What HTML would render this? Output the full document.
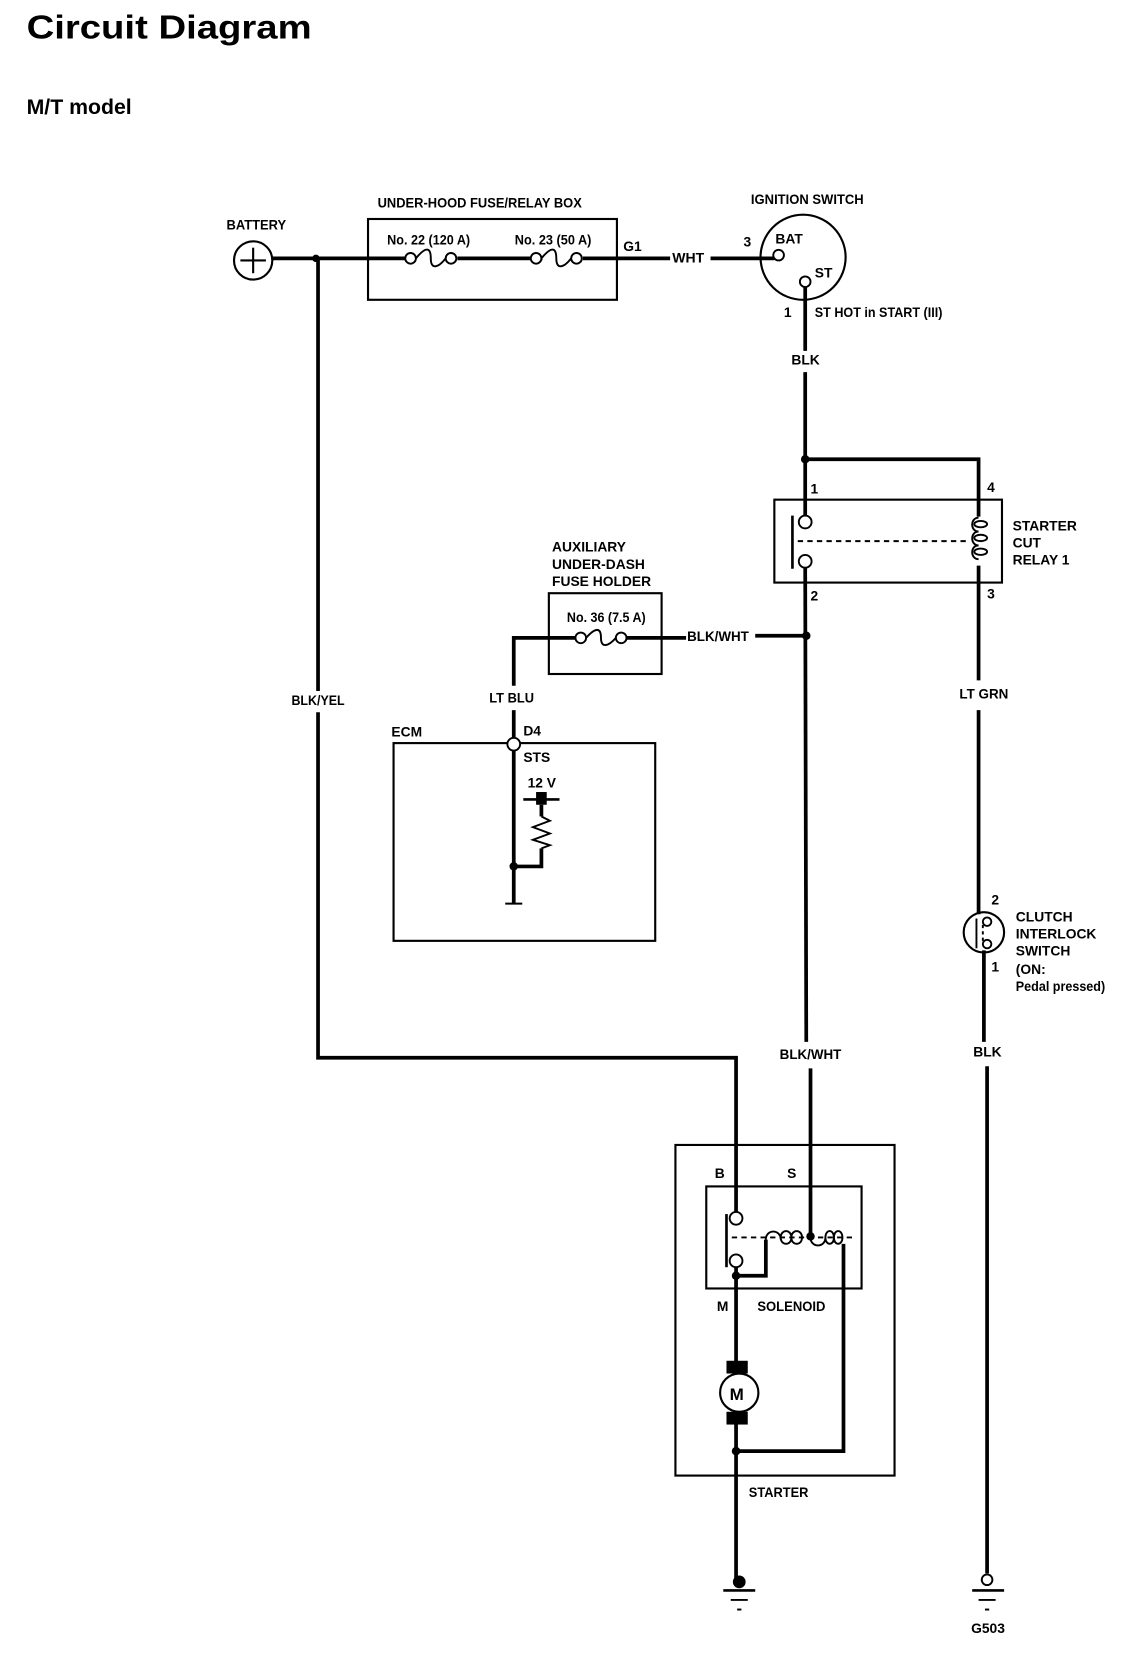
<!DOCTYPE html>
<html><head><meta charset="utf-8"><style>
html,body{margin:0;padding:0;background:#fff;}
svg{display:block}
text{font-family:"Liberation Sans",sans-serif;font-weight:bold;fill:#000;}
.s{font-size:13px;font-stretch:condensed;}
</style></head><body>
<svg width="1136" height="1668" viewBox="0 0 1068 1569" preserveAspectRatio="none" xmlns="http://www.w3.org/2000/svg">
<g fill="none" stroke="#000" stroke-width="3">
<text x="25" y="36" style="font-size:31px;stroke:none" textLength="268" lengthAdjust="spacingAndGlyphs">Circuit Diagram</text>
<text x="25" y="107" style="font-size:20px;stroke:none">M/T model</text>
</g>
<g class="s" style="font-size:13px">
<text x="213" y="216" textLength="56" lengthAdjust="spacingAndGlyphs">BATTERY</text>
<text x="355" y="195" textLength="192" lengthAdjust="spacingAndGlyphs">UNDER-HOOD FUSE/RELAY BOX</text>
<text x="364" y="230" textLength="78" lengthAdjust="spacingAndGlyphs">No. 22 (120 A)</text>
<text x="484" y="230" textLength="72" lengthAdjust="spacingAndGlyphs">No. 23 (50 A)</text>
<text x="586" y="236">G1</text>
<text x="632" y="247" textLength="30" lengthAdjust="spacingAndGlyphs">WHT</text>
<text x="706" y="192" textLength="106" lengthAdjust="spacingAndGlyphs">IGNITION SWITCH</text>
<text x="699" y="232">3</text>
<text x="729" y="229">BAT</text>
<text x="766" y="261">ST</text>
<text x="737" y="298">1</text>
<text x="766" y="298" textLength="120" lengthAdjust="spacingAndGlyphs">ST HOT in START (III)</text>
<text x="744" y="343">BLK</text>
<text x="762" y="464">1</text>
<text x="928" y="463">4</text>
<text x="762" y="565">2</text>
<text x="928" y="563">3</text>
<text x="952" y="499">STARTER</text>
<text x="952" y="515">CUT</text>
<text x="952" y="531">RELAY 1</text>
<text x="519" y="519">AUXILIARY</text>
<text x="519" y="535">UNDER-DASH</text>
<text x="519" y="551">FUSE HOLDER</text>
<text x="533" y="585" textLength="74" lengthAdjust="spacingAndGlyphs">No. 36 (7.5 A)</text>
<text x="646" y="603" textLength="58" lengthAdjust="spacingAndGlyphs">BLK/WHT</text>
<text x="460" y="661" textLength="42" lengthAdjust="spacingAndGlyphs">LT BLU</text>
<text x="274" y="663" textLength="50" lengthAdjust="spacingAndGlyphs">BLK/YEL</text>
<text x="368" y="693">ECM</text>
<text x="492" y="692">D4</text>
<text x="492" y="717">STS</text>
<text x="496" y="741">12 V</text>
<text x="902" y="657" textLength="46" lengthAdjust="spacingAndGlyphs">LT GRN</text>
<text x="932" y="851">2</text>
<text x="932" y="914">1</text>
<text x="955" y="867">CLUTCH</text>
<text x="955" y="883">INTERLOCK</text>
<text x="955" y="899">SWITCH</text>
<text x="955" y="916">(ON:</text>
<text x="955" y="932" textLength="84" lengthAdjust="spacingAndGlyphs">Pedal pressed)</text>
<text x="915" y="994">BLK</text>
<text x="733" y="996" textLength="58" lengthAdjust="spacingAndGlyphs">BLK/WHT</text>
<text x="672" y="1108">B</text>
<text x="740" y="1108">S</text>
<text x="674" y="1233">M</text>
<text x="712" y="1233" textLength="64" lengthAdjust="spacingAndGlyphs">SOLENOID</text>
<text x="704" y="1408" textLength="56" lengthAdjust="spacingAndGlyphs">STARTER</text>
<text x="913" y="1536">G503</text>
</g>
<g fill="none" stroke="#000" stroke-width="2">
<!-- battery -->
<circle cx="238" cy="245" r="18"/>
<line x1="226" y1="245" x2="250" y2="245"/><line x1="238" y1="233" x2="238" y2="257"/>
<!-- boxes -->
<rect x="346" y="206" width="234" height="76"/>
<circle cx="755" cy="242" r="40"/>
<rect x="728" y="470" width="214" height="78"/>
<rect x="516" y="558" width="106" height="76"/>
<rect x="370" y="699" width="246" height="186"/>
<rect x="635" y="1077" width="206" height="311"/>
<rect x="664" y="1116" width="146" height="96"/>
<circle cx="925" cy="877" r="19"/>
<circle cx="695" cy="1310" r="18"/>
</g>
<g fill="none" stroke="#000" stroke-width="3.5">
<!-- bus -->
<polyline points="256,243 386,243"/>
<line x1="430" y1="243" x2="510" y2="243"/>
<line x1="548" y1="243" x2="630" y2="243"/>
<line x1="668" y1="243" x2="728" y2="243"/>
<!-- BLK/YEL -->
<polyline points="299,243 299,650"/>
<polyline points="299,670 299,995 692,995 692,1140"/>
<!-- ignition ST down -->
<line x1="757" y1="270" x2="757" y2="330"/>
<line x1="757" y1="350" x2="757" y2="485"/>
<polyline points="757,432 920,432 920,486"/>
<line x1="920" y1="532" x2="920" y2="640"/>
<line x1="920" y1="668" x2="920" y2="860"/>
<line x1="925" y1="894" x2="925" y2="980"/>
<line x1="928" y1="1003" x2="928" y2="1480"/>
<!-- relay 2 down -->
<line x1="757" y1="534" x2="758" y2="980"/>
<line x1="762" y1="1005" x2="762" y2="1162"/>
<line x1="710" y1="598" x2="758" y2="598"/>
<line x1="586" y1="600" x2="645" y2="600"/>
<polyline points="544,600 483,600 483,645"/>
<line x1="483" y1="668" x2="483" y2="694"/>
<line x1="483" y1="706" x2="483" y2="850"/>
<line x1="509" y1="757" x2="509" y2="768"/>
<polyline points="509,798 509,815 483,815"/>
<!-- starter -->
<polyline points="692,1192 692,1200 720,1200 720,1166"/>
<line x1="692" y1="1200" x2="692" y2="1282"/>
<polyline points="793,1170 793,1365 692,1365"/>
<line x1="692" y1="1338" x2="692" y2="1490"/>
</g>
<g fill="none" stroke="#000" stroke-width="1.8">
<!-- fuses -->
<circle cx="386" cy="243" r="5" fill="#fff"/><circle cx="424" cy="243" r="5" fill="#fff"/>
<path d="M391,243 C400,232 405,232 405,243 C405,254 412,252 419,243"/>
<circle cx="504" cy="243" r="5" fill="#fff"/><circle cx="542" cy="243" r="5" fill="#fff"/>
<path d="M509,243 C518,232 523,232 523,243 C523,254 530,252 537,243"/>
<circle cx="546" cy="600" r="5" fill="#fff"/><circle cx="584" cy="600" r="5" fill="#fff"/>
<path d="M551,600 C560,590 565,590 565,600 C565,610 572,608 579,600"/>
<!-- ignition contacts -->
<circle cx="732" cy="240" r="5" fill="#fff"/>
<circle cx="757" cy="265" r="5" fill="#fff"/>
<!-- relay contacts -->
<circle cx="757" cy="491" r="6" fill="#fff"/><circle cx="757" cy="528" r="6" fill="#fff"/>
<line x1="745" y1="485" x2="745" y2="535" stroke-width="2.5"/>
<line x1="750" y1="509" x2="912" y2="509" stroke-dasharray="5,4"/>
<path d="M920,487 c-8,0 -8,13 0,13 c-8,0 -8,13 0,13 c-8,0 -8,13 0,13"/>
<ellipse cx="922" cy="493" rx="6" ry="3"/><ellipse cx="922" cy="506" rx="6" ry="3"/><ellipse cx="922" cy="519" rx="6" ry="3"/>
<!-- clutch -->
<circle cx="928" cy="867" r="4" fill="#fff"/><circle cx="928" cy="888" r="4" fill="#fff"/>
<line x1="918" y1="864" x2="918" y2="892"/>
<line x1="924" y1="870" x2="924" y2="886" stroke-dasharray="3,3"/>
<!-- ECM D4 -->
<circle cx="483" cy="700" r="6" fill="#fff"/>
<line x1="492" y1="752" x2="526" y2="752" stroke-width="2.5"/>
<polyline points="509,768 517,772 501,778 517,784 501,790 517,795 509,798"/>
<line x1="475" y1="850" x2="491" y2="850"/>
<!-- solenoid -->
<circle cx="692" cy="1146" r="6" fill="#fff"/><circle cx="692" cy="1186" r="6" fill="#fff"/>
<line x1="683" y1="1142" x2="683" y2="1192" stroke-width="2.5"/>
<line x1="688" y1="1164" x2="802" y2="1164" stroke-dasharray="5,4"/>
<path d="M720,1166 c0,-10 14,-10 14,0 M734,1164 c0,-8 10,-8 10,0 c0,8 -10,8 -10,0 M744,1164 c0,-8 10,-8 10,0 c0,8 -10,8 -10,0 M762,1164 c0,10 14,10 14,0 M776,1164 c0,-8 8,-8 8,0 c0,8 -8,8 -8,0 M784,1164 c0,-8 8,-8 8,0 c0,8 -8,8 -8,0"/>
<!-- grounds -->
<line x1="680" y1="1496" x2="710" y2="1496" stroke-width="2.5"/>
<line x1="687" y1="1505" x2="703" y2="1505"/><line x1="693" y1="1514" x2="697" y2="1514"/>
<circle cx="928" cy="1486" r="5" fill="#fff"/>
<line x1="914" y1="1496" x2="944" y2="1496" stroke-width="2.5"/>
<line x1="920" y1="1505" x2="936" y2="1505"/><line x1="926" y1="1514" x2="930" y2="1514"/>
</g>
<g fill="#000">
<circle cx="297" cy="243" r="3.5"/>
<circle cx="757" cy="432" r="4"/>
<circle cx="758" cy="598" r="4"/>
<circle cx="483" cy="815" r="4"/>
<rect x="504" y="745" width="10" height="12"/>
<circle cx="762" cy="1163" r="4"/>
<circle cx="692" cy="1200" r="4"/>
<circle cx="692" cy="1365" r="4"/>
<rect x="683" y="1280" width="20" height="12"/>
<rect x="683" y="1328" width="20" height="12"/>
<circle cx="695" cy="1488" r="6"/>
<text x="686" y="1317" style="font-size:16px">M</text>
</g>
</svg>
</body></html>
